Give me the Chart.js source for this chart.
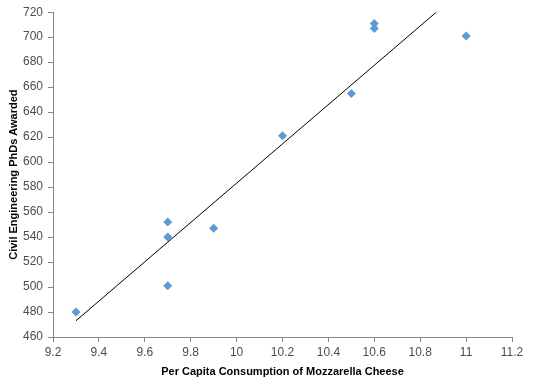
<!DOCTYPE html>
<html>
<head>
<meta charset="utf-8">
<script src="https://cdn.jsdelivr.net/npm/chart.js@4"></script>
<style>
  html, body { margin: 0; padding: 0; background: #fff; }
  #wrap { width: 536px; height: 392px; }
</style>
</head>
<body>
<div id="wrap"><canvas id="cheeseChart"></canvas></div>
<script>
// Data
const cheeseConsumption = [9.3, 9.7, 9.7, 9.7, 9.9, 10.2, 10.5, 11.0, 10.6, 10.6];
const phdsAwarded = [480, 501, 540, 552, 547, 621, 655, 701, 711, 707];

// Trend line endpoints as drawn (linear fit, clipped at the top of the axis)
const trendX = [9.3, 10.87];
const trendY = [473, 720];

const xMin = 9.2, xMax = 11.2, xStep = 0.2;
const yMin = 460, yMax = 720, yStep = 20;

const axisGrey = '#868686';
const labelGrey = '#4d4d4d';
const tickFont = { family: 'Liberation Sans', size: 12 };
const titleFont = { family: 'Liberation Sans', size: 11, weight: 'bold' };

const points = cheeseConsumption.map((x, i) => ({ x: x, y: phdsAwarded[i] }));
const trend = trendX.map((x, i) => ({ x: x, y: trendY[i] }));

const ctx = document.getElementById('cheeseChart').getContext('2d');
const cheeseChart = new Chart(ctx, {
    type: 'scatter',
    data: {
        datasets: [{
            label: 'PhDs',
            data: points,
            pointStyle: 'rectRot',
            pointRadius: 4.5,
            pointHoverRadius: 4.5,
            backgroundColor: '#5B9BD5',
            borderColor: '#5B9BD5',
            borderWidth: 0
        }, {
            label: 'Linear trend',
            type: 'line',
            data: trend,
            borderColor: '#000000',
            borderWidth: 1,
            pointRadius: 0,
            fill: false,
            tension: 0
        }]
    },
    options: {
        responsive: true,
        maintainAspectRatio: false,
        animation: false,
        layout: {
            padding: { top: 10, right: 24, bottom: 0, left: 0 }
        },
        plugins: {
            legend: { display: false },
            tooltip: { enabled: false }
        },
        scales: {
            x: {
                type: 'linear',
                min: xMin,
                max: xMax,
                afterFit: function (scale) { scale.height = 55; },
                ticks: {
                    stepSize: xStep,
                    color: labelGrey,
                    font: tickFont,
                    padding: 3,
                    maxRotation: 0,
                    callback: function (v) { return Math.round(v * 10) / 10; }
                },
                grid: {
                    drawOnChartArea: false,
                    drawTicks: true,
                    tickLength: 5,
                    color: axisGrey
                },
                border: { color: axisGrey, width: 1 },
                title: {
                    display: true,
                    text: 'Per Capita Consumption of Mozzarella Cheese',
                    color: '#000000',
                    font: titleFont,
                    padding: { top: 0, bottom: 13 }
                }
            },
            y: {
                type: 'linear',
                min: yMin,
                max: yMax,
                afterFit: function (scale) { scale.width = 53; },
                ticks: {
                    stepSize: yStep,
                    color: labelGrey,
                    font: tickFont,
                    padding: 5
                },
                grid: {
                    drawOnChartArea: false,
                    drawTicks: true,
                    tickLength: 5,
                    color: axisGrey
                },
                border: { color: axisGrey, width: 1 },
                title: {
                    display: true,
                    text: 'Civil Engineering PhDs Awarded',
                    color: '#000000',
                    font: titleFont,
                    padding: { top: 7, bottom: 0 }
                }
            }
        }
    }
});
</script>
</body>
</html>
